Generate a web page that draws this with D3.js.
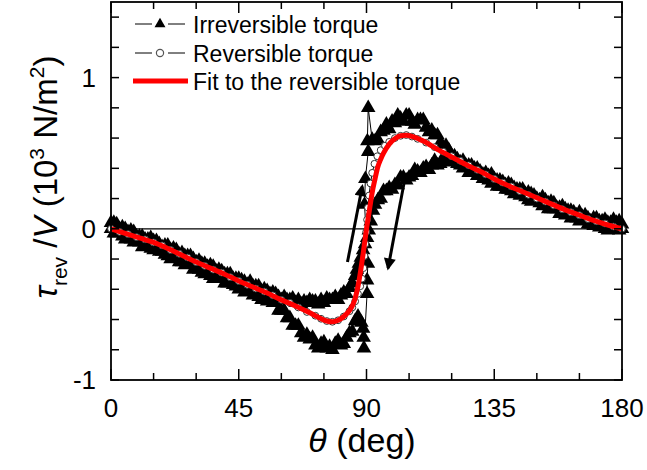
<!DOCTYPE html>
<html><head><meta charset="utf-8">
<script src="https://cdn.jsdelivr.net/npm/d3@7"></script>
<style>body{margin:0;background:#fff}svg{display:block}text{font-family:Arial,"Liberation Sans",sans-serif}</style>
</head><body><svg id="c" width="647" height="470"></svg>
<script>
// ---- data ----
const xTicksMajor = [0, 45, 90, 135, 180];
const xTicksMinor = [15, 30, 60, 75, 105, 120, 150, 165];
const yTickLabels = [-1, 0, 1];
const yTicksAll = [-1, -0.8, -0.6, -0.4, -0.2, 0, 0.2, 0.4, 0.6, 0.8, 1, 1.2, 1.4];

// Fit to the reversible torque
const fitTheta = [0,5,10,15,20,25,30,35,40,45,50,55,60,65,70,73,76,78,80,82,84,85,86,87,88,89,90,91,92,93,94,95,96,98,100,102,104,107,110,115,120,125,130,135,140,145,150,155,160,165,170,175,180];
const fitVal = [0,-0.03,-0.06,-0.09,-0.13,-0.175,-0.22,-0.26,-0.30,-0.345,-0.385,-0.425,-0.47,-0.51,-0.555,-0.585,-0.61,-0.615,-0.605,-0.58,-0.54,-0.51,-0.46,-0.38,-0.27,-0.14,0.0,0.12,0.24,0.33,0.41,0.46,0.50,0.56,0.595,0.615,0.618,0.605,0.58,0.525,0.475,0.425,0.38,0.33,0.285,0.245,0.205,0.165,0.125,0.09,0.055,0.025,0];

// Reversible torque (open circles)
const revTheta = [0,3,6,9,12,15,18,21,24,27,30,33,36,39,42,45,48,51,54,57,60,63,66,69,72,74,76,78,80,82,84,85,86,87,87.8,88.4,88.9,89.3,89.6,89.9,90.2,90.5,90.9,91.4,92,92.8,93.8,95,96.5,98,100,102,104,106,108,111,114,117,120,123,126,129,132,135,138,141,144,147,150,153,156,159,162,165,168,171,174,177,180];
const revVal = [0,-0.02,-0.035,-0.055,-0.07,-0.09,-0.11,-0.14,-0.165,-0.19,-0.22,-0.245,-0.27,-0.29,-0.32,-0.345,-0.37,-0.395,-0.415,-0.44,-0.47,-0.49,-0.52,-0.55,-0.575,-0.595,-0.61,-0.615,-0.605,-0.58,-0.545,-0.52,-0.48,-0.43,-0.38,-0.33,-0.26,-0.18,-0.10,-0.02,0.06,0.14,0.22,0.30,0.37,0.43,0.48,0.52,0.55,0.575,0.60,0.615,0.62,0.61,0.595,0.57,0.54,0.51,0.48,0.45,0.42,0.39,0.36,0.33,0.305,0.28,0.25,0.225,0.20,0.18,0.155,0.13,0.11,0.09,0.065,0.05,0.035,0.015,0];

// Irreversible torque, forward sweep (theta increasing)
const irrFwdTheta = [0,1,2,3,4,5,6,7,8,9,10,11,12,13,14,15,16,17,18,19,20,21,22,23,24,25,26,27,28,29,30,31,32,33,34,35,36,37,38,39,40,41,42,43,44,45,46,47,48,49,50,51,52,53,54,55,56,57,
  58,59,60,61,62,63,64,65,66,67,68,69,70,71,72,73,74,75,76,77,78,79,80,81,82,83,84,85,86,87,
  88.2,88.8,89,89.1,90.2,90.2,90.5,89.3,89.6,90.6,90.3,90.6,
  92,93,94,95,96,97,98,99,100,101,102,103,104,105,106,107,108,109,110,111,112,113,114,115,116,117,118,119,120,121,
  122,123,124,125,126,127,128,129,130,131,132,133,134,135,136,137,138,139,140,141,142,143,144,145,146,147,148,149,150,151,152,153,154,155,156,157,158,159,160,161,162,163,164,165,166,167,168,169,170,171,172,173,174,175,176,177,178,179,180];
const irrFwdVal = [-0.00,-0.03,-0.03,-0.02,-0.05,-0.07,-0.06,-0.07,-0.09,-0.08,-0.09,-0.12,-0.11,-0.11,-0.13,-0.14,-0.13,-0.15,-0.15,-0.17,-0.18,-0.20,-0.19,-0.19,-0.22,-0.22,-0.24,-0.23,-0.23,-0.27,-0.26,-0.27,-0.29,-0.30,-0.28,-0.31,-0.33,-0.31,-0.33,-0.33,-0.36,-0.36,-0.35,-0.37,-0.38,-0.40,-0.39,-0.42,-0.41,-0.41,-0.44,-0.43,-0.45,-0.47,-0.46,-0.48,-0.47,-0.49,
  -0.49,-0.54,-0.54,-0.54,-0.59,-0.59,-0.64,-0.64,-0.64,-0.69,-0.72,-0.70,-0.73,-0.72,-0.77,-0.79,-0.76,-0.75,-0.79,-0.78,-0.80,-0.76,-0.74,-0.77,-0.76,-0.72,-0.69,-0.68,-0.61,-0.58,
  -0.62,-0.66,-0.72,-0.79,-0.43,-0.34,-0.23,0.16,0.33,0.51,0.58,0.80,
  0.59,0.58,0.59,0.64,0.65,0.69,0.66,0.71,0.70,0.75,0.73,0.71,0.75,0.75,0.71,0.69,0.72,0.72,0.72,0.67,0.64,0.65,0.62,0.62,0.57,0.54,0.55,0.52,0.48,0.47,
  0.43,0.42,0.40,0.41,0.37,0.38,0.37,0.35,0.36,0.33,0.34,0.32,0.30,0.31,0.28,0.28,0.28,0.26,0.26,0.25,0.23,0.24,0.22,0.23,0.21,0.19,0.18,0.19,0.19,0.17,0.15,0.16,0.13,0.13,0.13,0.13,0.10,0.10,0.09,0.10,0.07,0.08,0.07,0.05,0.06,0.06,0.03,0.03,0.02,0.02,0.01,0.02,0.00,-0.01,0.00,0.00,0.00,-0.01,0.00];

// Irreversible torque, backward sweep (theta decreasing)
const irrBwdTheta = [180,179,178,177,176,175,174,173,172,171,170,169,168,167,166,165,164,163,162,161,160,159,158,157,156,155,154,153,152,151,150,149,148,147,146,145,144,143,142,141,140,139,138,137,136,135,134,133,132,131,130,129,128,127,126,125,124,123,122,121,
  120,119,118,117,116,115,114,113,112,111,110,109,108,107,106,105,104,103,102,101,100,99,98,97,96,95,94,93,
  92.3,91.5,90.8,90.2,89.5,88.8,88,87.3,86.6,86,85,
  84,83,82,81,80,79,78,77,76,75,74,73,72,71,70,69,68,67,66,65,64,63,62,61,60,59,58,
  57,56,55,54,53,52,51,50,49,48,47,46,45,44,43,42,41,40,39,38,37,36,35,34,33,32,31,30,29,28,27,26,25,24,23,22,21,20,19,18,17,16,15,14,13,12,11,10,9,8,7,6,5,4,3,2,1,0];
const irrBwdVal = [0.03,0.05,0.04,0.06,0.04,0.04,0.06,0.05,0.05,0.07,0.07,0.05,0.07,0.09,0.08,0.11,0.09,0.11,0.12,0.12,0.13,0.15,0.14,0.14,0.17,0.18,0.17,0.19,0.21,0.19,0.20,0.22,0.23,0.24,0.23,0.26,0.26,0.26,0.27,0.29,0.30,0.29,0.31,0.32,0.32,0.33,0.36,0.35,0.37,0.36,0.38,0.40,0.40,0.42,0.42,0.42,0.45,0.44,0.46,0.48,
  0.47,0.44,0.45,0.47,0.43,0.42,0.45,0.42,0.39,0.41,0.40,0.37,0.38,0.39,0.35,0.34,0.32,0.34,0.34,0.29,0.29,0.26,0.27,0.25,0.25,0.20,0.19,0.16,
  0.12,0.05,-0.01,-0.06,-0.10,-0.14,-0.19,-0.23,-0.27,-0.31,-0.36,
  -0.39,-0.43,-0.42,-0.44,-0.47,-0.45,-0.47,-0.47,-0.46,-0.49,-0.47,-0.50,-0.48,-0.48,-0.47,-0.49,-0.48,-0.50,-0.47,-0.49,-0.46,-0.47,-0.47,-0.45,-0.47,-0.45,-0.43,
  -0.42,-0.43,-0.41,-0.40,-0.41,-0.38,-0.38,-0.38,-0.35,-0.37,-0.35,-0.34,-0.33,-0.33,-0.33,-0.30,-0.30,-0.30,-0.28,-0.27,-0.28,-0.25,-0.24,-0.25,-0.23,-0.23,-0.21,-0.22,-0.20,-0.18,-0.18,-0.18,-0.16,-0.17,-0.14,-0.13,-0.14,-0.11,-0.11,-0.12,-0.10,-0.08,-0.08,-0.06,-0.07,-0.07,-0.05,-0.05,-0.05,-0.02,-0.01,-0.02,0.00,0.01,0.00,0.03,0.04,0.04];

// sweep-direction arrows [theta0, val0, theta1, val1]
const arrowUp = [83.3, -0.22, 88.5, 0.28];
const arrowDown = [103.2, 0.30, 97.6, -0.26];

const legendLabels = ["Irreversible torque", "Reversible torque", "Fit to the reversible torque"];

// ---- chart ----
const svg = d3.select("#c");
const L = 111, R = 622, T = 2, B = 380;
const x = d3.scaleLinear().domain([0, 180]).range([L, R]);
const y = d3.scaleLinear().domain([-1, 1.5]).range([B, T]);

const zip = (a, b) => a.map((t, i) => [t, b[i]]).filter(d => d[1] !== undefined);
const line = d3.line().x(d => x(d[0])).y(d => y(d[1]));

const plot = svg.append("g");
plot.append("line").attr("x1", x(0)).attr("x2", x(180)).attr("y1", y(0)).attr("y2", y(0))
  .attr("stroke", "#000").attr("stroke-width", 1.2);

const tri = d3.symbol(d3.symbolTriangle, 92);
const triLegend = d3.symbol(d3.symbolTriangle, 52);
function drawIrr(data) {
  plot.append("path").attr("d", line(data)).attr("fill", "none").attr("stroke", "#000").attr("stroke-width", 1);
  plot.append("g").selectAll("path").data(data).join("path")
    .attr("d", tri).attr("transform", d => `translate(${x(d[0])},${y(d[1])})`).attr("fill", "#000");
}
drawIrr(zip(irrFwdTheta, irrFwdVal));
drawIrr(zip(irrBwdTheta, irrBwdVal));

const rev = zip(revTheta, revVal);
plot.append("path").attr("d", line(rev)).attr("fill", "none").attr("stroke", "#000").attr("stroke-width", 1);
plot.append("g").selectAll("circle").data(rev).join("circle")
  .attr("cx", d => x(d[0])).attr("cy", d => y(d[1])).attr("r", 3.4)
  .attr("fill", "#fff").attr("stroke", "#333").attr("stroke-width", 1);

plot.append("path").attr("d", d3.line().curve(d3.curveMonotoneX).x(d => x(d[0])).y(d => y(d[1]))(zip(fitTheta, fitVal)))
  .attr("fill", "none").attr("stroke", "#ff0000").attr("stroke-width", 5).attr("stroke-linejoin", "round");

svg.append("defs").append("marker").attr("id", "ah").attr("viewBox", "0 0 10 10")
  .attr("refX", 8).attr("refY", 5).attr("markerWidth", 5).attr("markerHeight", 4).attr("orient", "auto")
  .append("path").attr("d", "M0,0 L10,5 L0,10 Z").attr("fill", "#000");
[arrowUp, arrowDown].forEach(a => {
  plot.append("line").attr("x1", x(a[0])).attr("y1", y(a[1])).attr("x2", x(a[2])).attr("y2", y(a[3]))
    .attr("stroke", "#000").attr("stroke-width", 3).attr("marker-end", "url(#ah)");
});

const ax = svg.append("g");
ax.append("rect").attr("x", L).attr("y", T).attr("width", R - L).attr("height", B - T)
  .attr("fill", "none").attr("stroke", "#000").attr("stroke-width", 1.8);
xTicksMajor.concat(xTicksMinor).forEach(t => {
  const len = xTicksMajor.includes(t) ? 11 : 7;
  ax.append("line").attr("x1", x(t)).attr("x2", x(t)).attr("y1", B).attr("y2", B - len).attr("stroke", "#000").attr("stroke-width", 1.5);
  ax.append("line").attr("x1", x(t)).attr("x2", x(t)).attr("y1", T).attr("y2", T + len).attr("stroke", "#000").attr("stroke-width", 1.5);
});
yTicksAll.forEach(t => {
  ax.append("line").attr("x1", L).attr("x2", L + 8).attr("y1", y(t)).attr("y2", y(t)).attr("stroke", "#000").attr("stroke-width", 1.5);
  ax.append("line").attr("x1", R).attr("x2", R - 8).attr("y1", y(t)).attr("y2", y(t)).attr("stroke", "#000").attr("stroke-width", 1.5);
});
xTicksMajor.forEach(t => {
  ax.append("text").attr("x", x(t)).attr("y", 417).attr("text-anchor", "middle").attr("font-size", 26).text(t);
});
yTickLabels.forEach(t => {
  ax.append("text").attr("x", 96).attr("y", y(t) + 9).attr("text-anchor", "end").attr("font-size", 26).text(t);
});

const xt = svg.append("text").attr("x", 362).attr("y", 452).attr("text-anchor", "middle").attr("font-size", 34);
xt.append("tspan").attr("font-style", "italic").text("θ");
xt.append("tspan").text(" (deg)");

const yt = svg.append("text").attr("transform", "translate(57,177) rotate(-90)").attr("text-anchor", "middle").attr("font-size", 33);
yt.append("tspan").attr("font-style", "italic").text("τ");
yt.append("tspan").attr("font-size", 21).attr("dy", 10).text("rev");
yt.append("tspan").attr("dy", -10).text(" /");
yt.append("tspan").attr("font-style", "italic").text("V");
yt.append("tspan").text(" (10");
yt.append("tspan").attr("font-size", 21).attr("dy", -13).text("3");
yt.append("tspan").attr("dy", 13).text(" N/m");
yt.append("tspan").attr("font-size", 21).attr("dy", -13).text("2");
yt.append("tspan").attr("dy", 13).text(")");

const lg = svg.append("g");
const rows = [24, 53, 81];
lg.append("line").attr("x1", 135).attr("x2", 152).attr("y1", rows[0]).attr("y2", rows[0]).attr("stroke", "#000");
lg.append("line").attr("x1", 168).attr("x2", 185).attr("y1", rows[0]).attr("y2", rows[0]).attr("stroke", "#000");
lg.append("path").attr("d", triLegend).attr("transform", `translate(160,${rows[0]})`).attr("fill", "#000");
lg.append("line").attr("x1", 135).attr("x2", 152).attr("y1", rows[1]).attr("y2", rows[1]).attr("stroke", "#000");
lg.append("line").attr("x1", 168).attr("x2", 185).attr("y1", rows[1]).attr("y2", rows[1]).attr("stroke", "#000");
lg.append("circle").attr("cx", 160).attr("cy", rows[1]).attr("r", 3.6).attr("fill", "#fff").attr("stroke", "#555").attr("stroke-width", 1.2);
lg.append("line").attr("x1", 133).attr("x2", 188).attr("y1", rows[2]).attr("y2", rows[2]).attr("stroke", "#ff0000").attr("stroke-width", 5);
legendLabels.forEach((s, i) => {
  lg.append("text").attr("x", 193).attr("y", rows[i] + 8.5).attr("font-size", 23).text(s);
});
</script></body></html>
